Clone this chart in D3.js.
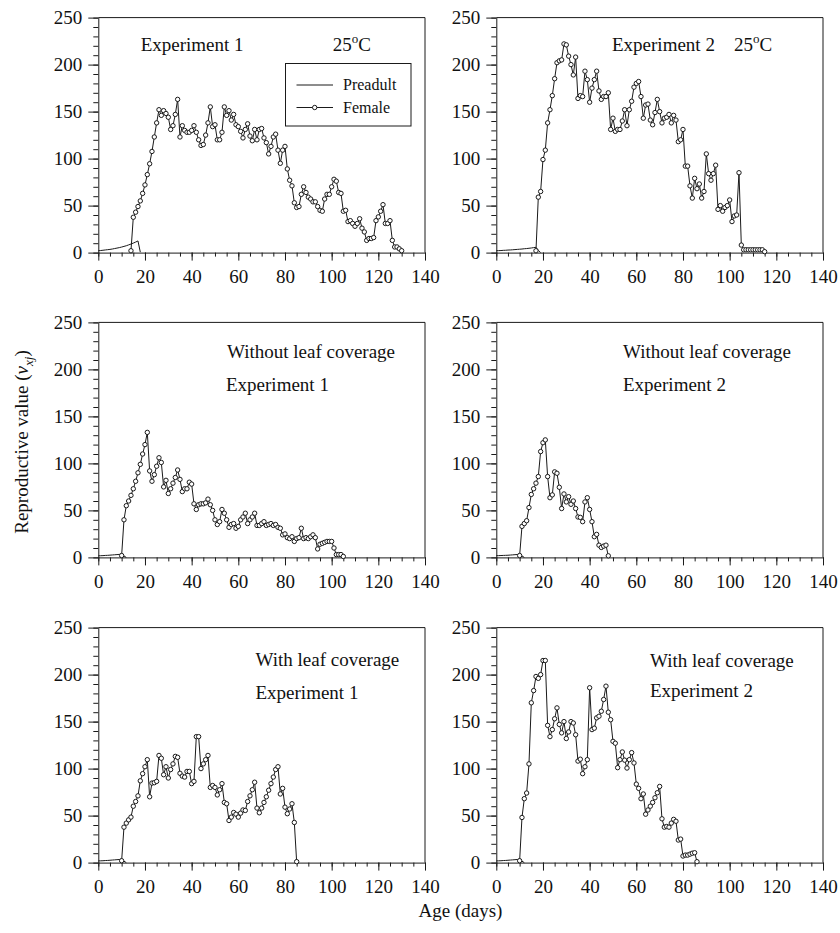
<!DOCTYPE html>
<html>
<head>
<meta charset="utf-8">
<script src="https://cdn.jsdelivr.net/npm/d3@7"></script>
<style>
  html, body { margin: 0; padding: 0; background: #fff; }
  svg, svg text { font-family: "Liberation Serif", "Times New Roman", serif; }
  svg { display: block; }
</style>
</head>
<body>
<svg id="chart" width="840" height="933"></svg>
<script>
// Age-stage reproductive value (v_xj) of preadults and females, per day of age.
const ageTicks = [0, 20, 40, 60, 80, 100, 120, 140];
const valueTicks = [0, 50, 100, 150, 200, 250];

// 25 °C, experiment 1
const exp1PreadultStart = 0;
const exp1Preadult = [2, 2.2, 2.5, 2.8, 3.1, 3.4, 3.8, 4.3, 4.8, 5.3, 5.9, 6.6, 7.3, 8.2, 9.1, 10.1, 11.2, 12.4, 0.5];
const exp1FemaleStart = 14;
const exp1Female = [2, 37.6, 43, 49, 55, 63, 72, 83, 94.5, 107.6, 123, 138, 152, 146, 151, 148, 144, 131, 135, 147,
  163, 123, 135, 130, 128, 128, 130, 135, 128, 120, 114, 115, 125, 138, 155, 134, 136, 120, 120, 128,
  155, 146, 151, 141, 147, 136, 134, 129, 122, 131, 137, 124, 119, 131, 120, 131, 132, 122, 117, 105,
  113, 123, 126, 109, 95, 109, 113, 89, 77, 71, 53, 48, 49, 62, 70, 64, 59, 57, 54, 54,
  49, 45, 44, 57, 62, 62, 70, 78, 76, 64, 63, 44, 45, 33, 34, 31, 28, 31, 36, 26,
  22, 13, 15, 15, 16, 34, 38, 44, 51, 31, 31, 34, 13, 6, 6, 4, 2];

// 25 °C, experiment 2
const exp2PreadultStart = 0;
const exp2Preadult = [2, 2.1, 2.2, 2.4, 2.5, 2.7, 2.8, 3.0, 3.2, 3.4, 3.6, 3.8, 4.1, 4.3, 4.6, 4.9, 5.3, 5.6, 2.5, 0];
const exp2FemaleStart = 17;
const exp2Female = [2, 59, 65, 99, 109, 138, 152, 167, 185, 202, 204, 205, 222, 221, 209, 200, 189, 208, 164, 167,
  166, 193, 184, 160, 175, 184, 193, 172, 163, 166, 166, 170, 131, 143, 129, 131, 131, 140, 152, 135,
  152, 161, 176, 180, 182, 166, 143, 157, 158, 141, 136, 149, 163, 150, 138, 143, 144, 147, 138, 146,
  141, 118, 120, 131, 92, 92, 71, 58, 79, 68, 73, 58, 65, 105, 84, 77, 84, 93, 46, 50,
  44, 48, 50, 56, 33, 39, 40, 85, 8, 3, 3, 3, 3, 3, 3, 3, 3, 3, 1];

// Without leaf coverage, experiment 1
const noLeaf1PreadultStart = 0;
const noLeaf1Preadult = [1.7, 1.8, 1.9, 2.1, 2.2, 2.4, 2.6, 2.8, 3.0, 3.2, 3.4, 1.5, 0];
const noLeaf1FemaleStart = 10;
const noLeaf1Female = [2, 40, 55, 60, 66, 73, 81, 90, 99, 110, 120, 133, 92, 81, 88, 97, 106, 101, 75, 82,
  68, 73, 79, 85, 93, 83, 70, 73, 73, 80, 78, 57, 51, 56, 57, 57, 58, 62, 56, 50,
  40, 35, 38, 51, 47, 40, 32, 35, 36, 31, 33, 40, 43, 47, 36, 40, 43, 47, 34, 34,
  36, 38, 34, 35, 36, 34, 35, 32, 31, 24, 25, 21, 20, 22, 17, 20, 21, 31, 20, 21,
  20, 22, 24, 21, 9, 14, 15, 16, 17, 17, 17, 10, 3, 3, 3, 1];

// Without leaf coverage, experiment 2
const noLeaf2PreadultStart = 0;
const noLeaf2Preadult = [1.8, 1.9, 2.0, 2.1, 2.2, 2.3, 2.5, 2.7, 2.9, 3.1, 3.3, 1.5, 0];
const noLeaf2FemaleStart = 10;
const noLeaf2Female = [2, 33, 36, 39, 53, 67, 73, 79, 86, 112.6, 122, 125, 86, 63.5, 66.5, 91, 89.5, 74.6, 52, 67.5,
  59, 64.6, 56.5, 60, 52, 43, 42.6, 38, 59, 63.5, 51, 38, 22, 24.5, 13, 10.6, 12, 13, 1.7];

// With leaf coverage, experiment 1
const leaf1PreadultStart = 0;
const leaf1Preadult = [1.8, 1.9, 2.0, 2.2, 2.3, 2.5, 2.7, 2.9, 3.1, 3.3, 3.6, 1.5, 0];
const leaf1FemaleStart = 10;
const leaf1Female = [2, 37.7, 42, 45.5, 48.4, 60, 65, 71, 87, 94.6, 102, 109.5, 70, 84.6, 85, 86.4, 114, 111, 93.5, 102,
  90, 99, 105, 113, 112, 95, 92, 91, 97, 97, 84, 86.4, 134, 134, 100, 105, 109.5, 114, 80, 82,
  80, 72, 77.5, 84, 64, 62.6, 44.8, 48.4, 53.3, 51.5, 48.4, 52.6, 56, 55.5, 65, 71, 77.5, 85.5, 58, 53,
  58, 64, 70, 77, 84, 91, 99, 102, 73, 79, 59, 52, 57, 62.6, 42.7, 1];

// With leaf coverage, experiment 2
const leaf2PreadultStart = 0;
const leaf2Preadult = [1.8, 1.9, 2.0, 2.2, 2.3, 2.5, 2.7, 2.9, 3.1, 3.3, 3.6, 1.5, 0];
const leaf2FemaleStart = 10;
const leaf2Female = [2, 48, 68, 74, 105, 170, 183, 198, 196, 200, 215, 215, 146, 134, 141.5, 153, 164.6, 147, 138, 150,
  132, 139, 150, 148.5, 136, 108, 110, 94.6, 102, 109.5, 186, 141.5, 143, 154, 155.7, 161, 173.5, 187.7, 160, 152,
  129, 127, 101, 109.5, 117.7, 109, 100.6, 109.5, 117, 106, 83.5, 79, 68, 73, 51.5, 56, 60, 64, 69, 74.3,
  81, 46.6, 37.7, 38.4, 37.7, 42, 46, 44, 24, 25, 7, 8, 8, 9, 10, 10.5, 1];

// Panel grid geometry
const colX = [98.3, 496.3];
const rowTop = [17.6, 322.4, 627.6];
const panelW = 326.7;
const panelH = 235;

const panels = [
  { col: 0, row: 0, pre: [exp1PreadultStart, exp1Preadult], fem: [exp1FemaleStart, exp1Female] },
  { col: 1, row: 0, pre: [exp2PreadultStart, exp2Preadult], fem: [exp2FemaleStart, exp2Female] },
  { col: 0, row: 1, pre: [noLeaf1PreadultStart, noLeaf1Preadult], fem: [noLeaf1FemaleStart, noLeaf1Female] },
  { col: 1, row: 1, pre: [noLeaf2PreadultStart, noLeaf2Preadult], fem: [noLeaf2FemaleStart, noLeaf2Female] },
  { col: 0, row: 2, pre: [leaf1PreadultStart, leaf1Preadult], fem: [leaf1FemaleStart, leaf1Female] },
  { col: 1, row: 2, pre: [leaf2PreadultStart, leaf2Preadult], fem: [leaf2FemaleStart, leaf2Female] }
];

const serif = "Liberation Serif";
const svg = d3.select("#chart").attr("font-family", serif);
const ink = "#1a1a1a";
const tickFont = 19;

function toPoints(start, values) {
  return values.map((v, i) => ({ age: start + i, v: v }));
}

function styleAxis(a) {
  a.attr("font-family", serif).attr("font-size", tickFont);
  a.selectAll("line").attr("stroke", ink);
  a.selectAll(".domain").attr("stroke", ink);
  a.selectAll("text").attr("fill", "#111").attr("font-family", serif)
    .style("font-family", serif).style("font-size", tickFont + "px");
}

panels.forEach(p => {
  const x0 = colX[p.col], y0 = rowTop[p.row];
  const x = d3.scaleLinear().domain([0, 140]).range([x0, x0 + panelW]);
  const y = d3.scaleLinear().domain([0, 250]).range([y0 + panelH, y0]);
  const g = svg.append("g");

  // frame (top and right edges)
  g.append("path")
    .attr("d", `M${x(0)},${y(250)}H${x(140)}V${y(0)}`)
    .attr("fill", "none").attr("stroke", ink).attr("stroke-width", 1);

  // x axis: minor ticks every 5 days, labelled majors every 20
  const xMinor = g.append("g").attr("transform", `translate(0,${y(0)})`)
    .call(d3.axisBottom(x).tickValues(d3.range(0, 141, 5)).tickSize(4).tickFormat("").tickSizeOuter(0));
  xMinor.select(".domain").remove();
  const xMajor = g.append("g").attr("transform", `translate(0,${y(0)})`)
    .call(d3.axisBottom(x).tickValues(ageTicks).tickSize(8).tickPadding(9).tickSizeOuter(0));
  styleAxis(xMinor);
  styleAxis(xMajor);

  // y axis: minor ticks every 10, labelled majors every 50
  const yMinor = g.append("g").attr("transform", `translate(${x(0)},0)`)
    .call(d3.axisLeft(y).tickValues(d3.range(0, 251, 10)).tickSize(5).tickFormat("").tickSizeOuter(0));
  yMinor.select(".domain").remove();
  const yMajor = g.append("g").attr("transform", `translate(${x(0)},0)`)
    .call(d3.axisLeft(y).tickValues(valueTicks).tickSize(10).tickPadding(6).tickSizeOuter(0));
  styleAxis(yMinor);
  styleAxis(yMajor);

  const line = d3.line().x(d => x(d.age)).y(d => y(d.v));

  // preadult curve
  const pre = toPoints(p.pre[0], p.pre[1]);
  g.append("path").datum(pre).attr("d", line)
    .attr("fill", "none").attr("stroke", ink).attr("stroke-width", 1);

  // female curve with open markers
  const fem = toPoints(p.fem[0], p.fem[1]);
  g.append("path").datum(fem).attr("d", line)
    .attr("fill", "none").attr("stroke", ink).attr("stroke-width", 1);
  g.selectAll("circle.f").data(fem).enter().append("circle")
    .attr("class", "f")
    .attr("cx", d => x(d.age)).attr("cy", d => y(d.v)).attr("r", 2.2)
    .attr("fill", "#fff").attr("stroke", ink).attr("stroke-width", 1);
});

// panel annotations
function label(text, xPos, yPos, size) {
  return svg.append("text").attr("x", xPos).attr("y", yPos).attr("font-family", serif)
    .style("font-size", (size || 19) + "px").attr("fill", "#111").text(text);
}
function tempLabel(xPos, yPos) {
  const t = svg.append("text").attr("x", xPos).attr("y", yPos).attr("font-family", serif)
    .style("font-size", "19px").attr("fill", "#111");
  t.append("tspan").text("25");
  t.append("tspan").attr("dy", -8).style("font-size", "13px").text("o");
  t.append("tspan").attr("dy", 8).text("C");
}

label("Experiment 1", 140.7, 50.7);
tempLabel(332.7, 50.7);
label("Experiment 2", 612, 50.7);
tempLabel(734, 50.7);
label("Without leaf coverage", 227, 358);
label("Experiment 1", 226, 391);
label("Without leaf coverage", 623, 358);
label("Experiment 2", 623, 391);
label("With leaf coverage", 255.5, 666);
label("Experiment 1", 255.5, 699);
label("With leaf coverage", 650, 667);
label("Experiment 2", 650, 697);

// legend
const lg = svg.append("g");
lg.append("rect").attr("x", 285.5).attr("y", 63.5).attr("width", 125.5).attr("height", 62.5)
  .attr("fill", "#fff").attr("stroke", ink).attr("stroke-width", 1);
lg.append("line").attr("x1", 296.5).attr("x2", 333).attr("y1", 85).attr("y2", 85)
  .attr("stroke", ink).attr("stroke-width", 1);
lg.append("text").attr("x", 343).attr("y", 90).attr("font-family", serif)
  .style("font-size", "16px").attr("fill", "#111").text("Preadult");
lg.append("line").attr("x1", 296.5).attr("x2", 333).attr("y1", 107.5).attr("y2", 107.5)
  .attr("stroke", ink).attr("stroke-width", 1);
lg.append("circle").attr("cx", 314.7).attr("cy", 107.5).attr("r", 2.2)
  .attr("fill", "#fff").attr("stroke", ink).attr("stroke-width", 1);
lg.append("text").attr("x", 343).attr("y", 112.5).attr("font-family", serif)
  .style("font-size", "16px").attr("fill", "#111").text("Female");

// axis titles
const yt = svg.append("text")
  .attr("transform", "translate(28,442) rotate(-90)").attr("font-family", serif)
  .attr("text-anchor", "middle").style("font-size", "19px").attr("fill", "#111");
yt.append("tspan").text("Reproductive value (");
yt.append("tspan").style("font-style", "italic").text("v");
yt.append("tspan").attr("dy", 5).style("font-style", "italic").style("font-size", "13px").text("xj");
yt.append("tspan").attr("dy", -5).text(")");

svg.append("text").attr("x", 460.5).attr("y", 917).attr("text-anchor", "middle").attr("font-family", serif)
  .style("font-size", "19px").attr("fill", "#111").text("Age (days)");
</script>
</body>
</html>
